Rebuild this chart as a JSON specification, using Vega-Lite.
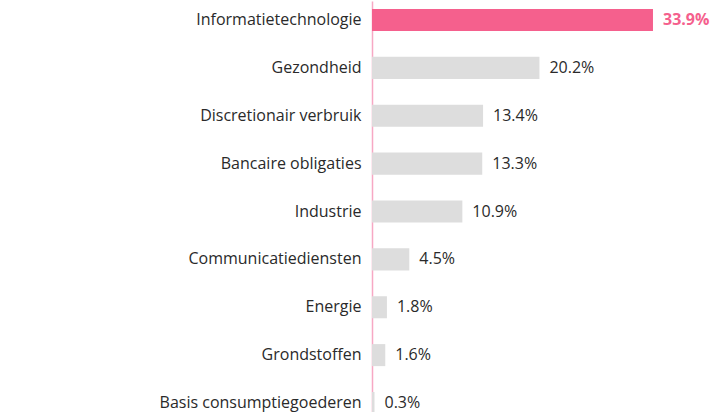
{
  "$schema": "https://vega.github.io/schema/vega-lite/v6.json",
  "width": 339,
  "height": 421,
  "autosize": {"type": "none"},
  "padding": {"left": 372, "top": 1, "right": 0, "bottom": 0},
  "background": "white",
  "config": {"view": {"stroke": null}, "font": "Open Sans"},
  "data": {"values": [
    {"sector": "Informatietechnologie", "value": 33.9, "label": "33.9%", "hl": true},
    {"sector": "Gezondheid", "value": 20.2, "label": "20.2%", "hl": false},
    {"sector": "Discretionair verbruik", "value": 13.4, "label": "13.4%", "hl": false},
    {"sector": "Bancaire obligaties", "value": 13.3, "label": "13.3%", "hl": false},
    {"sector": "Industrie", "value": 10.9, "label": "10.9%", "hl": false},
    {"sector": "Communicatiediensten", "value": 4.5, "label": "4.5%", "hl": false},
    {"sector": "Energie", "value": 1.8, "label": "1.8%", "hl": false},
    {"sector": "Grondstoffen", "value": 1.6, "label": "1.6%", "hl": false},
    {"sector": "Basis consumptiegoederen", "value": 0.3, "label": "0.3%", "hl": false}
  ]},
  "encoding": {
    "y": {"field": "sector", "type": "nominal", "sort": null,
      "scale": {"paddingInner": 0.54, "paddingOuter": 0.167},
      "axis": {"title": null, "ticks": false, "domainColor": "#f7a8c4", "domainWidth": 1.5, "labelFontSize": 16, "labelColor": "#2a2a2a", "labelPadding": 11, "labelLimit": 400, "labelFont": "Open Sans"}},
    "x": {"field": "value", "type": "quantitative", "scale": {"domain": [0, 40.9]}, "axis": null}
  },
  "layer": [
    {"mark": {"type": "bar"},
     "encoding": {"color": {"condition": {"test": "datum.hl", "value": "#f5608d"}, "value": "#dddddd"}}},
    {"transform": [{"filter": "!datum.hl"}],
     "mark": {"type": "text", "align": "left", "dx": 10, "fontSize": 16, "font": "Open Sans", "color": "#2a2a2a"},
     "encoding": {"text": {"field": "label"}}},
    {"transform": [{"filter": "datum.hl"}],
     "mark": {"type": "text", "align": "left", "dx": 10, "fontSize": 16, "font": "Open Sans", "fontWeight": "bold", "color": "#f5608d"},
     "encoding": {"text": {"field": "label"}}}
  ]
}
